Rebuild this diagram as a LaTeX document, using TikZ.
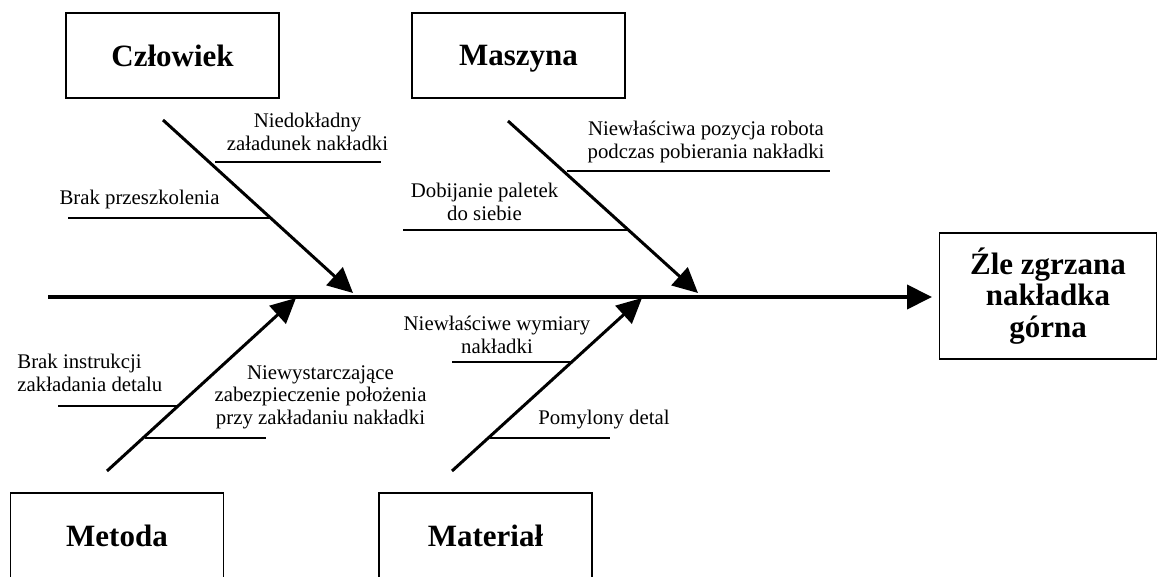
\documentclass[tikz,border=0pt]{standalone}
\usepackage{fontspec}
\setmainfont{Liberation Serif}
\usetikzlibrary{arrows.meta,calc,positioning}

\tikzset{
  kat/.style={draw,line width=0.9pt,minimum width=106.5pt,minimum height=42.5pt,
    inner sep=0pt,text depth=0pt,font=\bfseries\fontsize{15.5}{16}\selectfont},
  wynik/.style={draw,line width=0.9pt,minimum width=108.5pt,minimum height=63pt,
    inner sep=0pt,align=center,font=\bfseries\fontsize{15.5}{15.9}\selectfont},
  przyczyna/.style={inner sep=0pt,align=center,font=\fontsize{10.4}{11.3}\selectfont},
  grot/.style={-{Triangle[length=12.5pt,width=12pt]}},
  kregoslup/.style={grot,line width=2pt},
  osc/.style={grot,line width=1.5pt},
  galaz/.style={line width=0.75pt}
}

\begin{document}
\begin{tikzpicture}[x=0.5pt,y=-0.5pt]
\useasboundingbox (0,0) rectangle (1157,577);

\foreach \n/\x/\y in {ogon/48/297,glowa/932/297,
  c1/163/120,c2/353/293,m1/508/121,m2/698/293,
  t1/107/471,t2/296/298,a1/452/471,a2/642/298,
  p1/215/162,p2/381/162,q1/68/218,q2/271/218,
  r1/403/230,r2/627/230,s1/567/171,s2/830/171,
  u1/58/406,u2/179/406,v1/145/438,v2/266/438,
  w1/452/362,w2/571/362,z1/490/438,z2/610/438}
  \coordinate (\n) at (\x,\y);

\node[kat] (czlowiek) at (172.5,55.5) {Człowiek};
\node[kat] (maszyna) at (518.5,55.5) {Maszyna};
\node[kat] (metoda) at (117,535.5) {Metoda};
\node[kat] (material) at (485.5,535.5) {Materiał};
\node[wynik] (skutek) at (1048,296) {Źle zgrzana\\nakładka\\górna};

\draw[kregoslup] (ogon) -- (glowa);
\draw[osc] (c1) -- (c2);
\draw[osc] (m1) -- (m2);
\draw[osc] (t1) -- (t2);
\draw[osc] (a1) -- (a2);

\draw[galaz] (p1) -- (p2);
\draw[galaz] (q1) -- (q2);
\draw[galaz] (r1) -- (r2);
\draw[galaz] (s1) -- (s2);
\draw[galaz] (u1) -- (u2);
\draw[galaz] (v1) -- (v2);
\draw[galaz] (w1) -- (w2);
\draw[galaz] (z1) -- (z2);

\node[przyczyna,anchor=north] (niedokladny) at (307.5,113) {Niedokładny\\załadunek nakładki};
\node[przyczyna,anchor=north] (szkolenie) at (139.5,190) {Brak przeszkolenia};
\node[przyczyna,anchor=north] (dobijanie) at (484.5,183) {Dobijanie paletek\\do siebie};
\node[przyczyna,anchor=north] (pozycja) at (706,121) {Niewłaściwa pozycja robota\\podczas pobierania nakładki};
\node[przyczyna,anchor=north west,align=left] (instrukcja) at (17,354) {Brak instrukcji\\zakładania detalu};
\node[przyczyna,anchor=north] (zabezpieczenie) at (320.5,365) {Niewystarczające\\zabezpieczenie położenia\\przy zakładaniu nakładki};
\node[przyczyna,anchor=north] (wymiary) at (497,316) {Niewłaściwe wymiary\\nakładki};
\node[przyczyna,anchor=north] (pomylony) at (604,410) {Pomylony detal};

\end{tikzpicture}
\end{document}
